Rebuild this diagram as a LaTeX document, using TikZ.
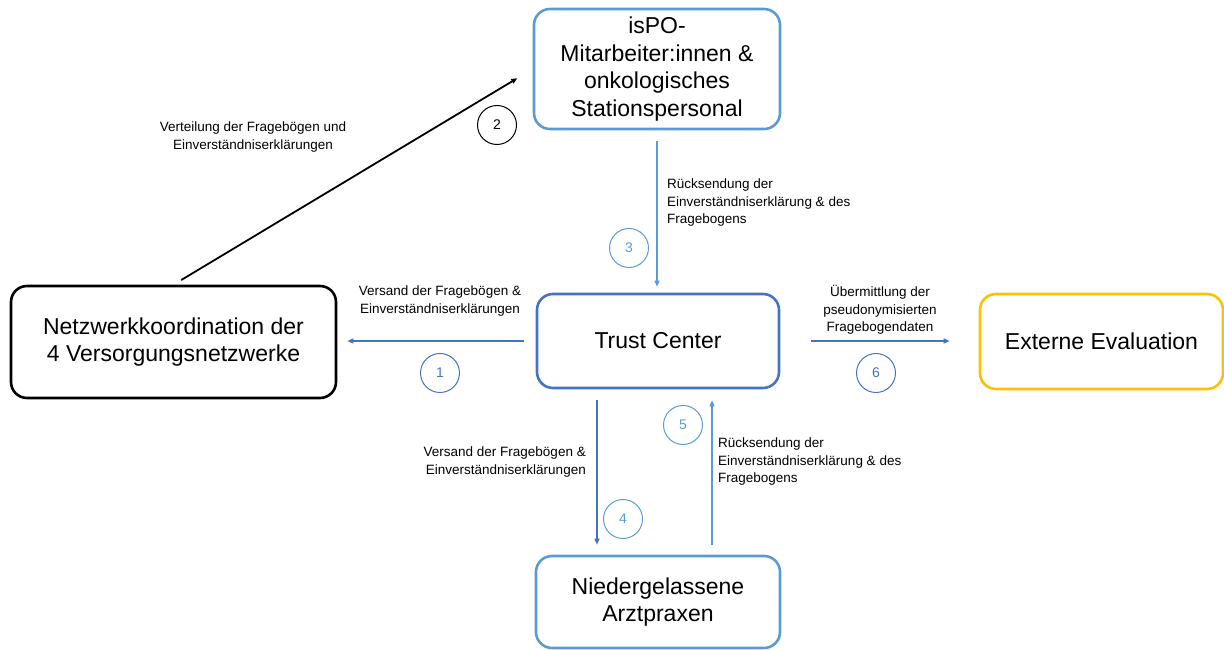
\documentclass[tikz,border=0pt]{standalone}
\usepackage{fontspec}
\setmainfont{Liberation Sans}
\usepackage{tikz}
\usetikzlibrary{arrows.meta,positioning,calc}
\definecolor{lightblue}{HTML}{5B9BD5}
\definecolor{darkblue}{HTML}{4472C4}
\definecolor{gold}{HTML}{FFC000}

\begin{document}
\begin{tikzpicture}[x=1pt,y=1pt,
        box/.style={rectangle, rounded corners=16pt, line width=2.6pt, align=center,
                    font=\fontsize{23}{27.5}\selectfont, inner sep=4pt},
        flow/.style={-{Triangle[length=6pt,width=5pt]}, line width=1.3pt},
        num/.style={circle, draw, line width=1pt, minimum size=39pt, inner sep=0pt,
                    font=\fontsize{14}{16}\selectfont},
        lbl/.style={font=\fontsize{13.5}{17.5}\selectfont, inner sep=0pt}]
    \useasboundingbox (0,0) rectangle (1224,650);

    % Boxes
    \node[box, draw=lightblue, minimum width=246pt, minimum height=120pt] (ispo) at (657,581)
        {isPO-\\Mitarbeiter:innen \&\\onkologisches\\Stationspersonal};
    \node[box, draw=black, minimum width=325pt, minimum height=112pt] (netz) at (173.5,308)
        {Netzwerkkoordination der\\4 Versorgungsnetzwerke};
    \node[box, draw=darkblue, minimum width=242pt, minimum height=94pt] (trust) at (658,309)
        {Trust Center};
    \node[box, draw=gold, minimum width=243pt, minimum height=95pt] (extern) at (1101.5,308.5)
        {Externe Evaluation};
    \node[box, draw=lightblue, minimum width=244pt, minimum height=92pt] (praxen) at (658,48)
        {Niedergelassene\\Arztpraxen};

    % Connectors
    \draw[flow, darkblue, shorten <=12pt, shorten >=10pt] (trust.west) -- (trust.west -| netz.east);
    \draw[flow, black, line width=1.8pt, shorten <=9pt, shorten >=18pt] (netz.north) -- (ispo.west);
    \draw[flow, lightblue, shorten <=11pt, shorten >=6pt] (ispo.south) -- (ispo.south |- trust.north);
    \draw[flow, darkblue, shorten <=11pt, shorten >=10pt] ([xshift=-61pt]trust.south) -- ([xshift=-61pt]trust.south |- praxen.north);
    \draw[flow, lightblue, shorten <=10pt, shorten >=11pt] ([xshift=54pt]praxen.north) -- ([xshift=54pt]praxen.north |- trust.south);
    \draw[flow, darkblue, shorten <=31pt, shorten >=29pt] (trust.east) -- (trust.east -| extern.west);

    % Step numbers
    \node[num, draw=darkblue, text=darkblue] (n1) at (440,277) {1};
    \node[num, draw=black] (n2) at (497,525) {2};
    \node[num, draw=lightblue, text=lightblue] (n3) at (629,402) {3};
    \node[num, draw=lightblue, text=lightblue] (n4) at (623,131) {4};
    \node[num, draw=lightblue, text=lightblue] (n5) at (683,225) {5};
    \node[num, draw=darkblue, text=darkblue] (n6) at (876,277) {6};

    % Labels
    \node[lbl, align=center] (l1) at (440,349) {Versand der Fragebögen \&\\Einverständniserklärungen};
    \node[lbl, align=center] (l2) at (253,513) {Verteilung der Fragebögen und\\Einverständniserklärungen};
    \node[lbl, align=left, anchor=west] (l3) at (667,447) {Rücksendung der\\Einverständniserklärung \& des\\Fragebogens};
    \node[lbl, align=right, anchor=east] (l4) at (586,188) {Versand der Fragebögen \&\\Einverständniserklärungen};
    \node[lbl, align=left, anchor=west] (l5) at (718,188) {Rücksendung der\\Einverständniserklärung \& des\\Fragebogens};
    \node[lbl, align=center] (l6) at (880,340) {Übermittlung der\\pseudonymisierten\\Fragebogendaten};
\end{tikzpicture}
\end{document}
